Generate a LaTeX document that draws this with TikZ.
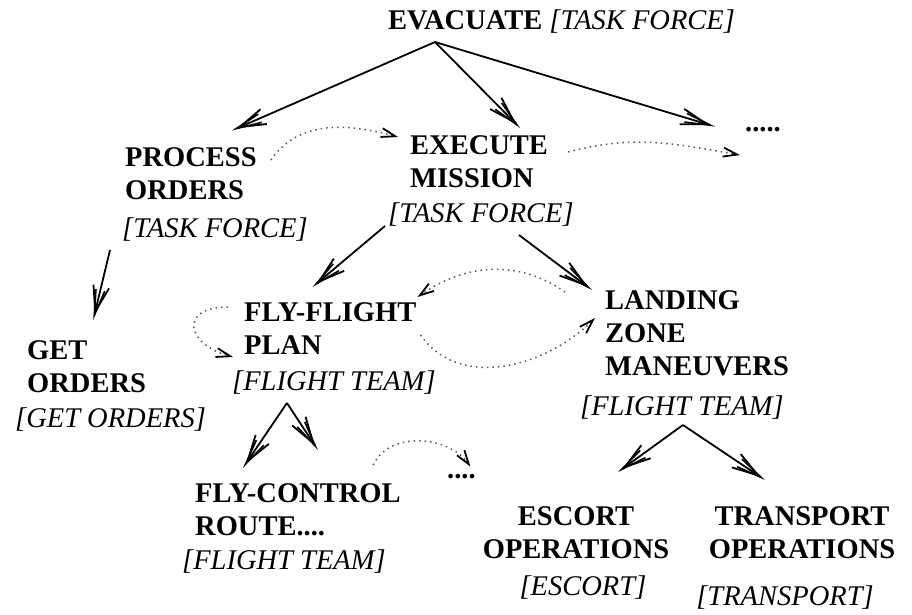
\documentclass[tikz,border=0pt]{standalone}
\usepackage{fontspec}
\setmainfont{Liberation Serif}
\usetikzlibrary{arrows.meta}
\newcommand\diagfont{\fontsize{28.5}{33}\selectfont}
\begin{document}
\begin{tikzpicture}[x=1pt,y=1pt,
  task/.style={font=\diagfont\bfseries,align=left,anchor=north west,inner sep=0pt},
  role/.style={font=\diagfont\itshape,anchor=west,inner sep=0pt},
  decomp/.style={line width=1.8pt,-{Straight Barb[length=26pt,width=16pt,line width=1.8pt,sep=-26pt]Straight Barb[length=26pt,width=9pt,line width=1.6pt]}},
  flow/.style={gray!70!black,line width=1.5pt,dash pattern=on 1.5pt off 4pt,-{Straight Barb[length=14pt,width=9pt,line width=1.8pt,color=black]}}]
\useasboundingbox (0,0) rectangle (912,-614);
\node[task,anchor=west] (evac) at (388,-22) {EVACUATE \textit{\mdseries[TASK FORCE]}};
\node[task,anchor=base west] (more1) at (745,-131) {.....};
\node[task] (proc) at (125,-147.5) {PROCESS\\ORDERS};
\node[role] (procr) at (122,-230) {[TASK FORCE]};
\node[task] (exec) at (410,-135.5) {EXECUTE\\MISSION};
\node[role] (execr) at (388,-215) {[TASK FORCE]};
\node[task] (get) at (27,-340.5) {GET\\ORDERS};
\node[role] (getr) at (15,-420) {[GET ORDERS]};
\node[task] (ffp) at (244,-302.5) {FLY-FLIGHT\\PLAN};
\node[role] (ffpr) at (232,-383) {[FLIGHT TEAM]};
\node[task] (lzm) at (605,-290.5) {LANDING\\ZONE\\MANEUVERS};
\node[role] (lzmr) at (580,-408) {[FLIGHT TEAM]};
\node[task] (fcr) at (195,-483.5) {FLY-CONTROL\\ROUTE....};
\node[role] (fcrr) at (182,-562) {[FLIGHT TEAM]};
\node[task,anchor=base west] (more2) at (447,-478) {....};
\node[task,align=center,anchor=north] (esc) at (576,-506.5) {ESCORT\\OPERATIONS};
\node[role,anchor=center] (escr) at (583,-588) {[ESCORT]};
\node[task,align=center,anchor=north] (trn) at (802,-506.5) {TRANSPORT\\OPERATIONS};
\node[role,anchor=center] (trnr) at (785,-598) {[TRANSPORT]};

\coordinate (evacfork) at ([shift={(47,-8)}]evac.south west);
\draw[decomp] (evacfork) -- ([shift={(41,17)}]proc.north);
\draw[decomp] (evacfork) -- ([shift={(41,7.5)}]exec.north);
\draw[decomp] (evacfork) -- ([shift={(-30,2.5)}]more1.west);
\draw[flow] ([shift={(14,-12.5)}]proc.north east) to[out=55,in=165] ([shift={(-12,-1.5)}]exec.north west);
\draw[flow] ([shift={(20,-16.5)}]exec.north east) to[out=15,in=170] ([shift={(-5,-26)}]more1.west);
\draw[decomp] ([shift={(-12,-20)}]procr.west) -- ([shift={(6.6,20.5)}]get.north);
\draw[decomp] ([shift={(-3,1)}]execr.south west) -- ([shift={(-17.7,15.5)}]ffp.north);
\draw[decomp] ([shift={(38,-8)}]execr.south) -- ([shift={(-13,0.5)}]lzm.north west);
\draw[flow] ([shift={(-40,-1.5)}]lzm.north west) to[out=145,in=35] ([shift={(1,5.5)}]ffp.north east);
\draw[flow] ([shift={(4,-32.5)}]ffp.north east) to[out=-55,in=225] ([shift={(-10,-27.5)}]lzm.north west);
\draw[flow] ([shift={(-16,-4.5)}]ffp.north west) to[out=180,in=165,looseness=2.5] ([shift={(-11,-54.5)}]ffp.north west);
\coordinate (ffpfork) at ([shift={(-47,-8)}]ffpr.south);
\draw[decomp] (ffpfork) -- ([shift={(-55,15.5)}]fcr.north);
\draw[decomp] (ffpfork) -- ([shift={(20,33.5)}]fcr.north);
\draw[flow] ([shift={(-27.6,18.5)}]fcr.north east) to[out=65,in=125] ([shift={(-5.5,9.5)}]more2.east);
\coordinate (lzmfork) at ([shift={(1,-5)}]lzmr.south);
\draw[decomp] (lzmfork) -- ([shift={(42,34.5)}]esc.north);
\draw[decomp] (lzmfork) -- ([shift={(-37,26.5)}]trn.north);
\end{tikzpicture}
\end{document}
